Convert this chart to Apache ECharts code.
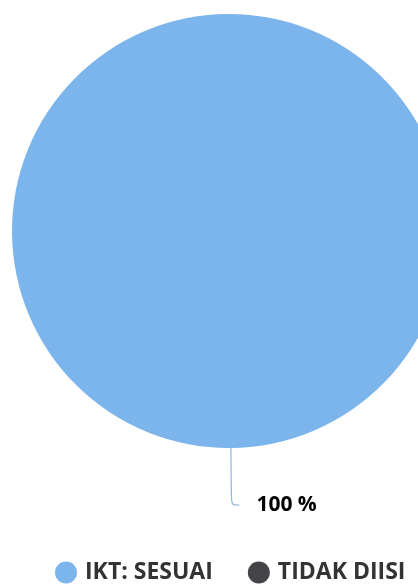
<!DOCTYPE html>
<html><head><meta charset="utf-8">
<script src="https://cdn.jsdelivr.net/npm/echarts@6/dist/echarts.min.js"></script>
<style>html,body{margin:0;padding:0;background:#fff}#c{width:418px;height:588px}</style>
</head><body><div id="c"></div>
<script>
const categories = ['IKT: SESUAI', 'TIDAK DIISI'];
const values = [100, 0];
const colors = ['#7cb5ec', '#434348'];

const chart = echarts.init(document.getElementById('c'), null, {renderer: 'canvas'});
chart.setOption({
  animation: false,
  color: colors,
  legend: {
    top: 556,
    left: 50,
    icon: 'circle',
    itemWidth: 28,
    itemHeight: 22,
    itemGap: 35,
    textStyle: {fontFamily: 'Open Sans', fontWeight: 'bold', fontSize: 23, color: '#333'},
    data: categories
  },
  series: [{
    type: 'pie',
    center: [229, 231],
    radius: [0, 217],
    startAngle: 90.5,
    avoidLabelOverlap: false,
    label: {
      formatter: '{d} %',
      fontFamily: 'Open Sans',
      fontWeight: 'bold',
      fontSize: 21,
      color: '#000',
      padding: [20, 0, 0, 12]
    },
    labelLine: {length: 57, length2: 8, smooth: true, lineStyle: {color: '#8fb4dc', width: 1.2}},
    data: categories.map((n, i) => ({
      name: n, value: values[i],
      label: {show: values[i] > 0},
      labelLine: {show: values[i] > 0}
    }))
  }]
});
</script></body></html>
